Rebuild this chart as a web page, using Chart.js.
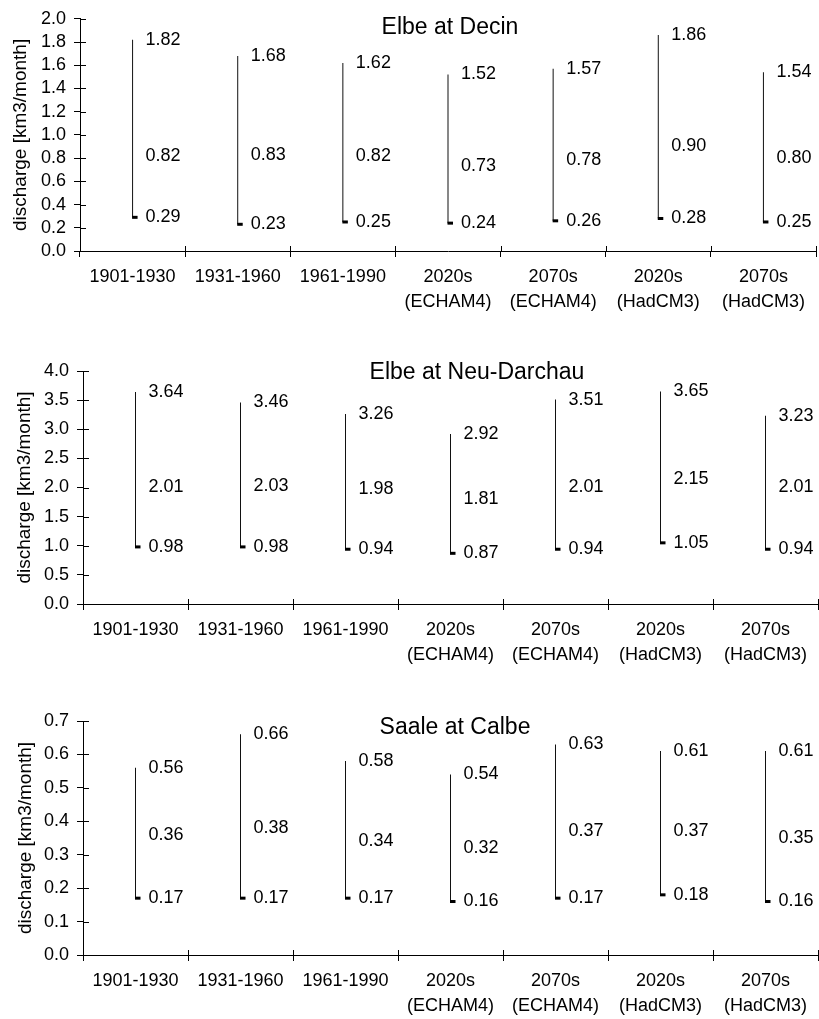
<!DOCTYPE html>
<html>
<head>
<meta charset="utf-8">
<script src="https://cdn.jsdelivr.net/npm/chart.js@4.4.0/dist/chart.umd.min.js"></script>
<style>
  body { margin: 0; background: #fff; }
  canvas { position: absolute; left: 0; }
</style>
</head>
<body>
<canvas id="decin" width="819" height="320" style="top:0px"></canvas>
<canvas id="darchau" width="819" height="340" style="top:330px"></canvas>
<canvas id="calbe" width="819" height="349" style="top:670px"></canvas>
<script>
const periods = ['1901-1930', '1931-1960', '1961-1990', ['2020s', '(ECHAM4)'], ['2070s', '(ECHAM4)'], ['2020s', '(HadCM3)'], ['2070s', '(HadCM3)']];

const decinHigh = [1.82, 1.68, 1.62, 1.52, 1.57, 1.86, 1.54];
const decinMean = [0.82, 0.83, 0.82, 0.73, 0.78, 0.90, 0.80];
const decinLow = [0.29, 0.23, 0.25, 0.24, 0.26, 0.28, 0.25];

const darchauHigh = [3.64, 3.46, 3.26, 2.92, 3.51, 3.65, 3.23];
const darchauMean = [2.01, 2.03, 1.98, 1.81, 2.01, 2.15, 2.01];
const darchauLow = [0.98, 0.98, 0.94, 0.87, 0.94, 1.05, 0.94];

const calbeHigh = [0.56, 0.66, 0.58, 0.54, 0.63, 0.61, 0.61];
const calbeMean = [0.36, 0.38, 0.34, 0.32, 0.37, 0.37, 0.35];
const calbeLow = [0.17, 0.17, 0.17, 0.16, 0.17, 0.18, 0.16];

const fontFamily = '"Liberation Sans", Arial, sans-serif';

function makeChart(id, title, high, mean, low, yMax, yStep, lay) {
    // labels, close tick, inner tick marks and title
    const extras = {
        id: 'extras',
        afterDatasetsDraw(chart) {
            const ctx = chart.ctx;
            const x = chart.scales.x;
            const y = chart.scales.y;
            const area = chart.chartArea;
            ctx.save();
            ctx.fillStyle = '#000';
            ctx.font = '18px ' + fontFamily;
            ctx.textAlign = 'left';
            ctx.textBaseline = 'middle';
            low.forEach((v, i) => {
                const px = x.getPixelForValue(i);
                ctx.fillRect(px - 0.5, y.getPixelForValue(v) - 1.5, 5.5, 3);
                [high[i], mean[i], v].forEach(val => {
                    ctx.fillText(val.toFixed(2), px + 13, y.getPixelForValue(val));
                });
            });
            ctx.strokeStyle = '#000';
            ctx.lineWidth = 1;
            ctx.beginPath();
            y.ticks.forEach((t, i) => {
                const py = Math.round(y.getPixelForTick(i)) + 0.5;
                ctx.moveTo(area.left, py);
                ctx.lineTo(area.left + 6, py);
            });
            for (let i = 0; i <= low.length; i++) {
                const px = Math.round(x.getPixelForValue(i - 0.5)) + 0.5;
                ctx.moveTo(px, area.bottom);
                ctx.lineTo(px, area.bottom - 5);
            }
            ctx.stroke();
            ctx.font = '23px ' + fontFamily;
            ctx.textAlign = 'center';
            ctx.textBaseline = 'alphabetic';
            ctx.fillText(title, lay.titleX, lay.titleY);
            ctx.restore();
        }
    };

    return new Chart(document.getElementById(id), {
        type: 'bar',
        data: {
            labels: periods,
            datasets: [{
                data: low.map((v, i) => [v, high[i]]),
                backgroundColor: '#111',
                borderWidth: 0,
                inflateAmount: 0,
                barThickness: 1
            }]
        },
        options: {
            responsive: false,
            animation: false,
            layout: {
                padding: { top: lay.top, right: lay.right, bottom: lay.bottom, left: 0 }
            },
            plugins: {
                legend: { display: false },
                tooltip: { enabled: false }
            },
            scales: {
                x: {
                    offset: true,
                    grid: { offset: true, drawOnChartArea: false, tickLength: 6, color: '#000' },
                    border: { color: '#000' },
                    ticks: {
                        color: '#000',
                        padding: 7,
                        maxRotation: 0,
                        autoSkip: false,
                        font: { size: 18, family: fontFamily, lineHeight: 1.4 }
                    },
                    afterFit(s) { s.height = 60; }
                },
                y: {
                    min: 0,
                    max: yMax,
                    grid: { drawOnChartArea: false, tickLength: 6, color: '#000' },
                    border: { color: '#000' },
                    ticks: {
                        stepSize: yStep,
                        autoSkip: false,
                        color: '#000',
                        padding: 8,
                        font: { size: 18, family: fontFamily },
                        callback: v => v.toFixed(1)
                    },
                    title: {
                        display: true,
                        text: 'discharge [km3/month]',
                        color: '#000',
                        font: { size: 19, family: fontFamily, lineHeight: 1 },
                        padding: { top: lay.titlePad, bottom: 0 }
                    },
                    afterFit(s) { s.width = lay.yWidth; }
                }
            }
        },
        plugins: [extras]
    });
}

makeChart('decin', 'Elbe at Decin', decinHigh, decinMean, decinLow, 2.0, 0.2,
    { top: 17, right: 3, bottom: 9, yWidth: 80, titlePad: 11, titleX: 450, titleY: 34 });
makeChart('darchau', 'Elbe at Neu-Darchau', darchauHigh, darchauMean, darchauLow, 4.0, 0.5,
    { top: 41, right: 1, bottom: 6, yWidth: 83, titlePad: 15, titleX: 477, titleY: 49 });
makeChart('calbe', 'Saale at Calbe', calbeHigh, calbeMean, calbeLow, 0.7, 0.1,
    { top: 51, right: 1, bottom: 4, yWidth: 83, titlePad: 16, titleX: 455, titleY: 64 });
</script>
</body>
</html>
